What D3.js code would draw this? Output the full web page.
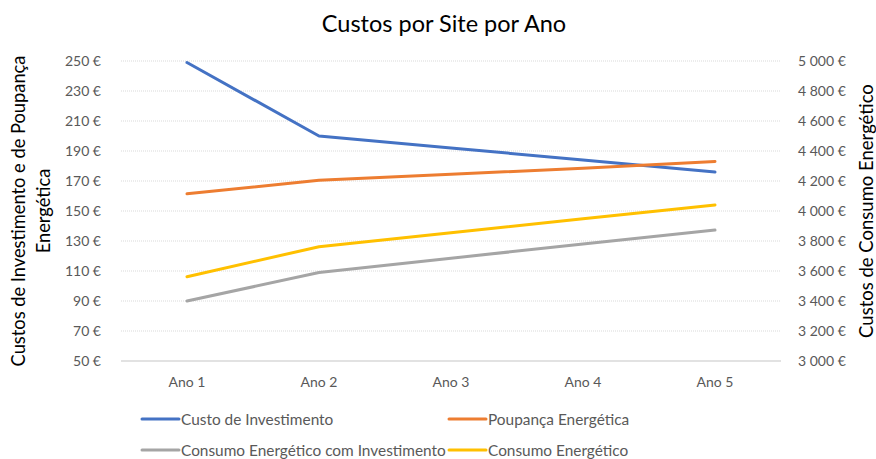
<!DOCTYPE html>
<html>
<head>
<meta charset="utf-8">
<script src="https://cdn.jsdelivr.net/npm/d3@7"></script>
<style>
  html, body { margin: 0; padding: 0; background: #fff; }
  svg { display: block; font-family: Lato, "Noto Sans", sans-serif; }
</style>
</head>
<body>
<svg id="chart" width="876" height="459"></svg>
<script>
// Categories and series
const years = ["Ano 1", "Ano 2", "Ano 3", "Ano 4", "Ano 5"];
const custoInvestimento = [249, 200, 192, 184, 176];          // left axis
const poupancaEnergetica = [161.5, 170.5, 174.5, 178.5, 183]; // left axis
const consumoComInvestimento = [3400, 3590, 3685, 3780, 3873]; // right axis
const consumoEnergetico = [3562, 3762, 3855, 3948, 4040];     // right axis

const leftTicks = [50, 70, 90, 110, 130, 150, 170, 190, 210, 230, 250];
const rightTicks = [3000, 3200, 3400, 3600, 3800, 4000, 4200, 4400, 4600, 4800, 5000];

const series = [
  { name: "Custo de Investimento", values: custoInvestimento, axis: "left", color: "#4472C4" },
  { name: "Poupança Energética", values: poupancaEnergetica, axis: "left", color: "#ED7D31" },
  { name: "Consumo Energético com Investimento", values: consumoComInvestimento, axis: "right", color: "#A5A5A5" },
  { name: "Consumo Energético", values: consumoEnergetico, axis: "right", color: "#FFC000" }
];

const FONT = "Lato, 'Noto Sans', sans-serif";
const svg = d3.select("#chart");
const plot = { left: 121, right: 781, top: 61, bottom: 361 };

const x = d3.scaleBand().domain(years).range([plot.left, plot.right]);
const yL = d3.scaleLinear().domain([50, 250]).range([plot.bottom, plot.top]);
const yR = d3.scaleLinear().domain([3000, 5000]).range([plot.bottom, plot.top]);

const fmtL = d => d + " €";
const fmtR = d => d3.format(",")(d).replace(/,/g, " ") + " €";

// Gridlines (dotted)
svg.append("g")
  .selectAll("line")
  .data(leftTicks.slice(1))
  .join("line")
  .attr("x1", plot.left).attr("x2", plot.right)
  .attr("y1", d => yL(d)).attr("y2", d => yL(d))
  .attr("stroke", "#d9d9d9").attr("stroke-width", 1)
  .attr("stroke-dasharray", "1,1");

// Baseline
svg.append("line")
  .attr("x1", plot.left).attr("x2", plot.right)
  .attr("y1", plot.bottom).attr("y2", plot.bottom)
  .attr("stroke", "#d9d9d9").attr("stroke-width", 1.3);

function styleTicks(g) {
  g.select(".domain").remove();
  g.selectAll("text").attr("fill", "#595959").style("font-size", "14px").style("font-family", FONT);
}

// Left axis labels
svg.append("g").attr("transform", `translate(${plot.left - 20},0)`)
  .call(d3.axisLeft(yL).tickValues(leftTicks).tickFormat(fmtL).tickSize(0).tickPadding(0))
  .call(styleTicks);

// Right axis labels
svg.append("g").attr("transform", `translate(${plot.right + 17},0)`)
  .call(d3.axisRight(yR).tickValues(rightTicks).tickFormat(fmtR).tickSize(0).tickPadding(0))
  .call(styleTicks);

// Category axis labels
svg.append("g").attr("transform", `translate(0,${plot.bottom + 16})`)
  .call(d3.axisBottom(x).tickSize(0).tickPadding(0))
  .call(styleTicks);

// Lines
const cx = d => x(d) + x.bandwidth() / 2;
series.forEach(s => {
  const yS = s.axis === "left" ? yL : yR;
  const line = d3.line().x((d, i) => cx(years[i])).y(d => yS(d));
  svg.append("path")
    .datum(s.values)
    .attr("d", line)
    .attr("fill", "none")
    .attr("stroke", s.color)
    .attr("stroke-width", 3)
    .attr("stroke-linecap", "round")
    .attr("stroke-linejoin", "round");
});

// Title
svg.append("text")
  .attr("x", 444).attr("y", 32)
  .attr("text-anchor", "middle")
  .attr("fill", "#000")
  .style("font-size", "23.5px")
  .text("Custos por Site por Ano");

// Left axis title (two lines)
const midY = (plot.top + plot.bottom) / 2;
const lt = svg.append("text")
  .attr("transform", `translate(25,${midY}) rotate(-90)`)
  .attr("text-anchor", "middle")
  .attr("fill", "#000")
  .style("font-size", "18.3px");
lt.append("tspan").attr("x", 0).attr("dy", 0).text("Custos de Investimento e de Poupança");
lt.append("tspan").attr("x", 0).attr("dy", 25).text("Energética");

// Right axis title
svg.append("text")
  .attr("transform", `translate(873,${midY}) rotate(-90)`)
  .attr("text-anchor", "middle")
  .attr("fill", "#000")
  .style("font-size", "18.5px")
  .text("Custos de Consumo Energético");

// Legend
const legendPos = [
  { x: 142, y: 419 },
  { x: 449, y: 419 },
  { x: 142, y: 450 },
  { x: 449, y: 450 }
];
const lg = svg.append("g").selectAll("g").data(series).join("g")
  .attr("transform", (d, i) => `translate(${legendPos[i].x},${legendPos[i].y})`);
lg.append("line")
  .attr("x1", 0).attr("x2", 37).attr("y1", 0).attr("y2", 0)
  .attr("stroke", d => d.color).attr("stroke-width", 3).attr("stroke-linecap", "round");
lg.append("text")
  .attr("x", 39).attr("y", 5.5)
  .attr("fill", "#595959")
  .style("font-size", "15.4px")
  .text(d => d.name);
</script>
</body>
</html>
